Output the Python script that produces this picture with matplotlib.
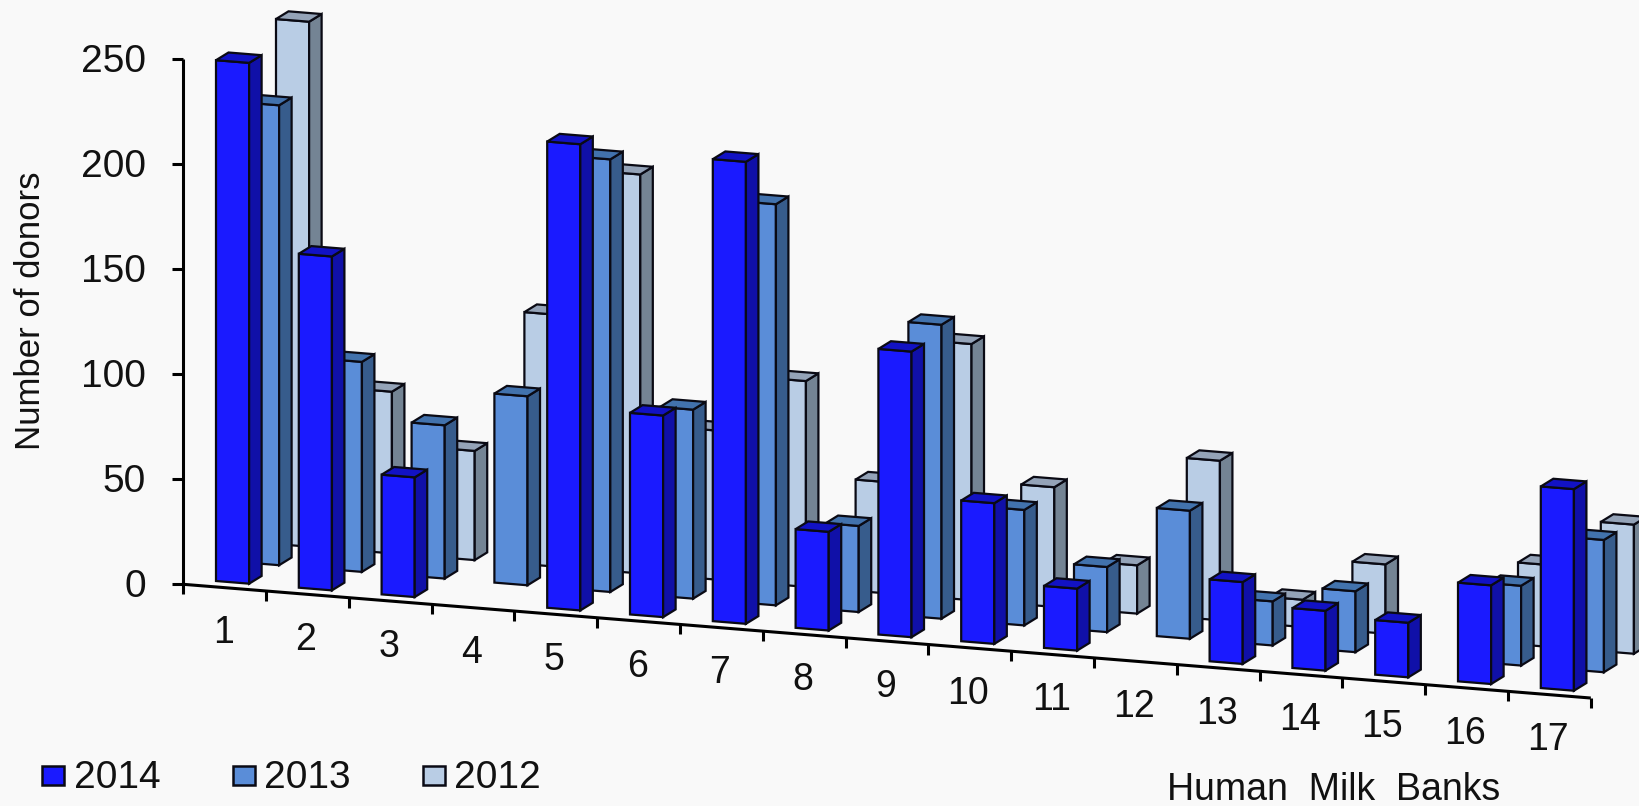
import numpy as np
import matplotlib
matplotlib.use("Agg")
import matplotlib.pyplot as plt
from matplotlib.patches import Polygon, Rectangle

plt.rcParams['font.family'] = ['Liberation Sans', 'DejaVu Sans']

# Donors per human milk bank; nan means the bank reported nothing that year
banks = list(range(1, 18))
donors_2014 = [248, 159, 57, np.nan, 222, 96, 220, 47, 136, 67, 29.5, np.nan, 39, 28.5, 26, 47, 96]
donors_2013 = [219, 100, 73, 90, 206, 90, 191, 41, 140, 55, 31, 61, 21, 29, np.nan, 38, 63]
donors_2012 = [250, 77, 52, 120, 190, 71, 98, 53, 122, 57, 23, 76, 13, 33, np.nan, 39, 61.5]
y_ticks = [0, 50, 100, 150, 200, 250]
years = ["2014", "2013", "2012"]

# front, side and top shades of each series
shades = {
    "2014": ("#1a1aff", "#1010a8", "#1212c4"),
    "2013": ("#5a8dd8", "#375c8c", "#4272ad"),
    "2012": ("#b9cde5", "#748494", "#94a3b8"),
}
series = {"2014": donors_2014, "2013": donors_2013, "2012": donors_2012}

# Oblique projection of (category, depth, value) onto the canvas
X0, Y0 = 183.2, 584.3
CAT_DX, CAT_DY = 82.8, 6.69
DEPTH_DX, DEPTH_DY = 12.5, -7.7
VALUE_DY = 2.1
BAR_START, BAR_WIDTH = 0.293, 0.4
FRONT_DEPTH, SERIES_STEP = 0.683, 2.4


def project(cat, depth, value):
    return (X0 + cat * CAT_DX + depth * DEPTH_DX,
            Y0 + cat * CAT_DY + depth * DEPTH_DY - value * VALUE_DY)


def draw_bar(ax, index, rank, value, colors):
    c0 = index + BAR_START
    c1 = c0 + BAR_WIDTH
    d0 = FRONT_DEPTH + rank * SERIES_STEP
    d1 = d0 + 1
    front = [project(c0, d0, 0), project(c1, d0, 0), project(c1, d0, value), project(c0, d0, value)]
    side = [project(c1, d0, 0), project(c1, d1, 0), project(c1, d1, value), project(c1, d0, value)]
    top = [project(c0, d0, value), project(c1, d0, value), project(c1, d1, value), project(c0, d1, value)]
    for verts, color in zip((front, side, top), colors):
        ax.add_patch(Polygon(verts, closed=True, facecolor=color, edgecolor="#0a0a14",
                             linewidth=1.6, joinstyle="miter"))


fig = plt.figure(figsize=(16.4, 8.06), dpi=100, facecolor="#f9f9f9")
ax = fig.add_axes([0, 0, 1, 1])
ax.set_xlim(0, 1640)
ax.set_ylim(806, 0)
ax.axis("off")

# Axes
axis_kw = dict(color="black", linewidth=2.2, solid_capstyle="butt")
top_x, top_y = project(0, 0, y_ticks[-1])
ax.plot([top_x, X0], [top_y, Y0], **axis_kw)
end_x, end_y = project(len(banks), 0, 0)
ax.plot([X0, end_x], [Y0, end_y], **axis_kw)

for tick in y_ticks:
    tx, ty = project(0, 0, tick)
    ax.plot([tx - 11, tx], [ty, ty], **axis_kw)
    ax.text(146, ty + 3, str(tick), ha="right", va="center", fontsize=28, color="#111111")

for i in range(len(banks) + 1):
    tx, ty = project(i, 0, 0)
    ax.plot([tx, tx], [ty, ty + 10], **axis_kw)

for i, bank in enumerate(banks):
    tx, ty = project(i, 0, 0)
    ax.text(tx + 40, ty + 49, str(bank), ha="center", va="center", fontsize=27, color="#111111")

# Bars, back row first so nearer rows overlap them
for rank, year in reversed(list(enumerate(years))):
    for i, value in reversed(list(enumerate(series[year]))):
        if not np.isnan(value):
            draw_bar(ax, i, rank, value, shades[year])

# Axis titles
ax.text(31, 311, "Number of donors", rotation=90, ha="center", va="center",
        fontsize=25, color="#111111")
ax.text(1334, 790, "Human  Milk  Banks", ha="center", va="center", fontsize=27, color="#111111")

# Legend
for year, sx, tx in zip(years, (42, 233, 423), (74, 264, 454)):
    ax.add_patch(Rectangle((sx, 766), 22.5, 19, facecolor=shades[year][0],
                           edgecolor="#0a0a14", linewidth=1.8))
    ax.text(tx, 778, year, ha="left", va="center", fontsize=28, color="#111111")

fig.savefig("out.png", dpi=100, facecolor=fig.get_facecolor())
